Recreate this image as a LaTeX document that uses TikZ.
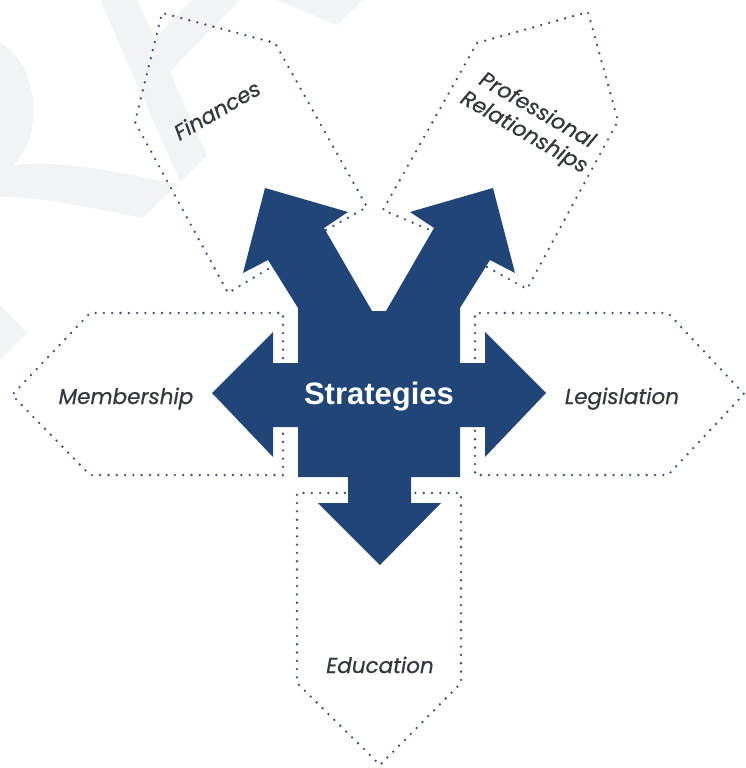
\documentclass[tikz,border=0pt]{standalone}
\usepackage{fontspec}
\newfontfamily\labelfont{Poppins}[ItalicFeatures={FakeBold=0.6}]
\newfontfamily\headfont{Liberation Sans}
\definecolor{arrowblue}{RGB}{33,69,119}
\definecolor{dotblue}{RGB}{58,78,118}
\definecolor{labelgray}{RGB}{52,55,62}
\definecolor{markgray}{RGB}{242,243,245}
\tikzset{
  outline/.style={draw=dotblue, line width=2.6pt, line cap=round, line join=round,
                  dash pattern=on 0pt off 8.3pt},
  bigarrow/.style={fill=arrowblue, draw=none},
  topic/.style={text=labelgray, font=\labelfont\itshape\fontsize{21.5}{24}\selectfont,
                inner sep=0pt, anchor=base},
  hub/.style={text=white, font=\headfont\bfseries\fontsize{31}{36}\selectfont,
              inner sep=0pt, anchor=base},
  logoshape/.style={fill=markgray, draw=none}
}
\begin{document}
\begin{tikzpicture}[x=1pt,y=-1pt]
\useasboundingbox (0,0) rectangle (746,768);

% faint logo shapes in the background
\fill[logoshape] (0,43) .. controls (35,60) and (48,130) .. (13,166)
  .. controls (50,158) and (120,172) .. (178,184) -- (143,218)
  .. controls (100,210) and (40,196) .. (0,197) -- cycle;
\fill[logoshape] (100,0) -- (137,0) -- (155,38) -- (192,0) -- (240,0)
  -- (170,72) -- (207,155) -- (180,182) -- cycle;
\fill[logoshape] (277,0) -- (337,25) -- (363,0) -- cycle;
\fill[logoshape] (0,305) -- (27,333) -- (0,360) -- cycle;

% dotted target panels
\draw[outline] (283,358) -- (283,313) -- (90,313) -- (12,395) -- (90,475) -- (283,475) -- (283,430);
\draw[outline] (475,358) -- (475,313) -- (668,313) -- (744,394) -- (668,475) -- (475,475) -- (475,430);
\draw[outline] (345,493) -- (297,493) -- (297,683) -- (380,765) -- (461,683) -- (461,493) -- (413,493);
\draw[outline] (268,269) -- (228,293) -- (135,122) -- (162,13) -- (275,43) -- (367,207) -- (326,230);
\draw[outline] (487,267) -- (527,289) -- (618,121) -- (588,12) -- (477,43) -- (383,210) -- (430,230);

% central five-way arrow
\fill[bigarrow]
  (372,311) -- (324,228) -- (348,212) -- (265,188) -- (243,273) -- (268,260)
  -- (298,308) -- (298,363) -- (273,363) -- (273,332) -- (212,393) -- (273,457)
  -- (273,427) -- (298,427) -- (298,477) -- (348,477) -- (348,503) -- (318,503)
  -- (380,565) -- (441,503) -- (411,503) -- (411,477) -- (460,477) -- (460,427)
  -- (485,427) -- (485,457) -- (546,393) -- (485,332) -- (485,363) -- (460,363)
  -- (460,308) -- (490,260) -- (515,273) -- (493,188) -- (410,212) -- (434,228)
  -- (386,311) -- cycle;

% labels
\node[hub] (hub) at (379,404) {Strategies};
\node[topic] (membership) at (126,404) {Membership};
\node[topic] (legislation) at (622,404) {Legislation};
\node[topic] (education) at (380,673) {Education};
\node[topic, rotate=30] (finances) at (221,117) {Finances};
\node[topic, rotate=-30] (prof) at (534,116) {Professional};
\node[topic, rotate=-30] (rel) at (521,138) {Relationships};
\end{tikzpicture}
\end{document}
